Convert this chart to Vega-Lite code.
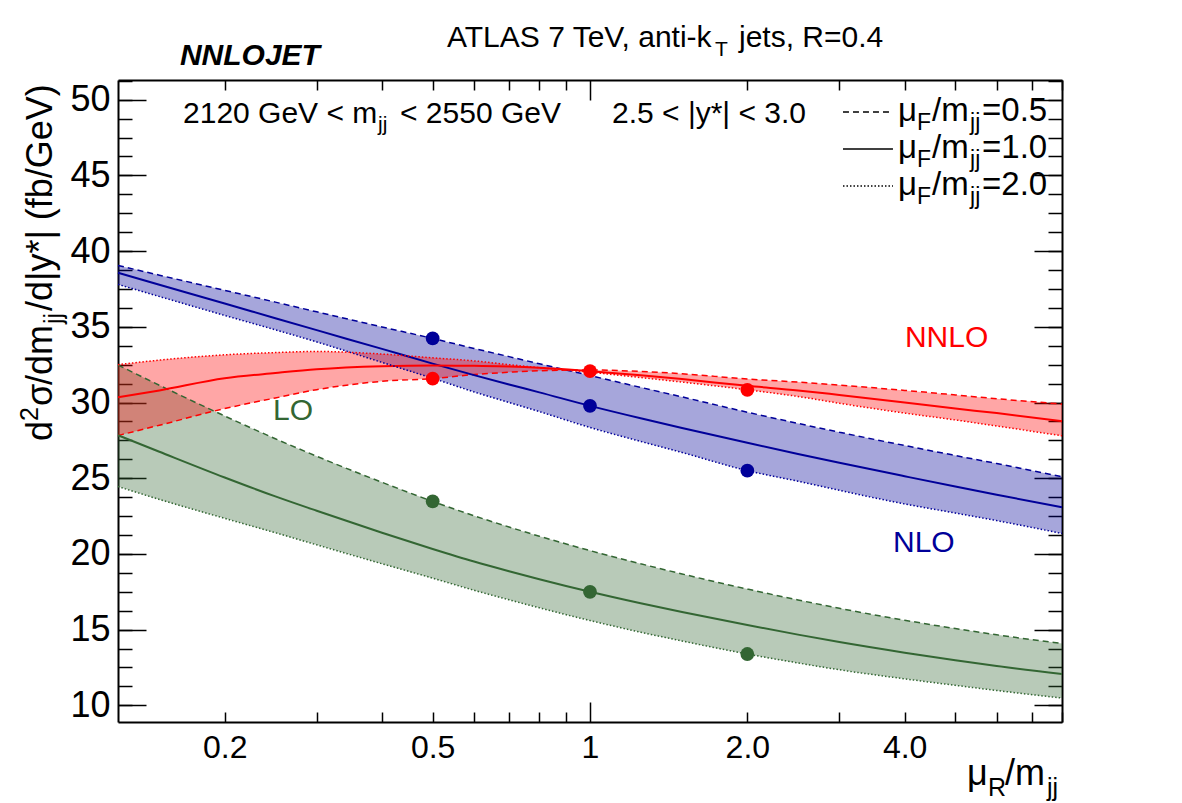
{
  "$schema": "https://vega.github.io/schema/vega-lite/v6.json",
  "width": 944,
  "height": 642,
  "autosize": "none",
  "padding": {"left": 118, "top": 80, "right": 120, "bottom": 81},
  "background": "white",
  "config": {
    "view": {"stroke": null},
    "font": "Liberation Sans",
    "axis": {"grid": false, "domain": false, "title": null, "labels": false, "tickColor": "#000", "tickWidth": 1.5, "domainColor": "#000", "domainWidth": 2, "zindex": 1}
  },
  "datasets": {
    "curves": [
      {"order": "LO", "mu": 0.125, "f05": 32.48, "f10": 27.84, "f20": 24.45},
      {"order": "LO", "mu": 0.15, "f05": 31.14, "f10": 26.75, "f20": 23.6},
      {"order": "LO", "mu": 0.2, "f05": 29.11, "f10": 25.05, "f20": 22.35},
      {"order": "LO", "mu": 0.25, "f05": 27.61, "f10": 23.8, "f20": 21.4},
      {"order": "LO", "mu": 0.3, "f05": 26.45, "f10": 22.85, "f20": 20.6},
      {"order": "LO", "mu": 0.4, "f05": 24.73, "f10": 21.4, "f20": 19.35},
      {"order": "LO", "mu": 0.5, "f05": 23.47, "f10": 20.33, "f20": 18.4},
      {"order": "LO", "mu": 0.6, "f05": 22.52, "f10": 19.5, "f20": 17.6},
      {"order": "LO", "mu": 0.7, "f05": 21.78, "f10": 18.86, "f20": 16.97},
      {"order": "LO", "mu": 0.8, "f05": 21.17, "f10": 18.33, "f20": 16.44},
      {"order": "LO", "mu": 1, "f05": 20.22, "f10": 17.5, "f20": 15.6},
      {"order": "LO", "mu": 1.25, "f05": 19.35, "f10": 16.74, "f20": 14.83},
      {"order": "LO", "mu": 1.5, "f05": 18.68, "f10": 16.16, "f20": 14.25},
      {"order": "LO", "mu": 2, "f05": 17.68, "f10": 15.3, "f20": 13.39},
      {"order": "LO", "mu": 2.5, "f05": 16.96, "f10": 14.67, "f20": 12.8},
      {"order": "LO", "mu": 3, "f05": 16.41, "f10": 14.18, "f20": 12.35},
      {"order": "LO", "mu": 4, "f05": 15.62, "f10": 13.48, "f20": 11.75},
      {"order": "LO", "mu": 5, "f05": 15.07, "f10": 12.98, "f20": 11.32},
      {"order": "LO", "mu": 6, "f05": 14.66, "f10": 12.6, "f20": 10.98},
      {"order": "LO", "mu": 8, "f05": 14.08, "f10": 12.07, "f20": 10.48},
      {"order": "NLO", "mu": 0.125, "f05": 39.05, "f10": 38.57, "f20": 37.8},
      {"order": "NLO", "mu": 0.15, "f05": 38.41, "f10": 37.78, "f20": 37.0},
      {"order": "NLO", "mu": 0.2, "f05": 37.41, "f10": 36.54, "f20": 35.75},
      {"order": "NLO", "mu": 0.25, "f05": 36.63, "f10": 35.57, "f20": 34.8},
      {"order": "NLO", "mu": 0.3, "f05": 35.99, "f10": 34.78, "f20": 34.0},
      {"order": "NLO", "mu": 0.4, "f05": 34.99, "f10": 33.54, "f20": 32.65},
      {"order": "NLO", "mu": 0.5, "f05": 34.23, "f10": 32.57, "f20": 31.6},
      {"order": "NLO", "mu": 0.6, "f05": 33.57, "f10": 31.81, "f20": 30.7},
      {"order": "NLO", "mu": 0.7, "f05": 33.03, "f10": 31.19, "f20": 30.0},
      {"order": "NLO", "mu": 0.8, "f05": 32.56, "f10": 30.67, "f20": 29.4},
      {"order": "NLO", "mu": 1, "f05": 31.78, "f10": 29.78, "f20": 28.35},
      {"order": "NLO", "mu": 1.25, "f05": 31.0, "f10": 28.96, "f20": 27.43},
      {"order": "NLO", "mu": 1.5, "f05": 30.37, "f10": 28.32, "f20": 26.7},
      {"order": "NLO", "mu": 2, "f05": 29.36, "f10": 27.34, "f20": 25.5},
      {"order": "NLO", "mu": 2.5, "f05": 28.62, "f10": 26.6, "f20": 24.8},
      {"order": "NLO", "mu": 3, "f05": 28.04, "f10": 26.02, "f20": 24.2},
      {"order": "NLO", "mu": 4, "f05": 27.16, "f10": 25.13, "f20": 23.3},
      {"order": "NLO", "mu": 5, "f05": 26.5, "f10": 24.45, "f20": 22.7},
      {"order": "NLO", "mu": 6, "f05": 25.97, "f10": 23.91, "f20": 22.2},
      {"order": "NLO", "mu": 8, "f05": 25.1, "f10": 23.08, "f20": 21.35},
      {"order": "NNLO", "mu": 0.125, "f05": 27.82, "f10": 30.35, "f20": 32.5},
      {"order": "NNLO", "mu": 0.15, "f05": 28.5, "f10": 30.8, "f20": 32.8},
      {"order": "NNLO", "mu": 0.2, "f05": 29.6, "f10": 31.6, "f20": 33.15},
      {"order": "NNLO", "mu": 0.25, "f05": 30.3, "f10": 31.95, "f20": 33.3},
      {"order": "NNLO", "mu": 0.3, "f05": 30.85, "f10": 32.2, "f20": 33.37},
      {"order": "NNLO", "mu": 0.4, "f05": 31.4, "f10": 32.4, "f20": 33.2},
      {"order": "NNLO", "mu": 0.5, "f05": 31.58, "f10": 32.45, "f20": 32.95},
      {"order": "NNLO", "mu": 0.6, "f05": 31.85, "f10": 32.42, "f20": 32.75},
      {"order": "NNLO", "mu": 0.7, "f05": 32.0, "f10": 32.38, "f20": 32.5},
      {"order": "NNLO", "mu": 0.8, "f05": 32.1, "f10": 32.3, "f20": 32.3},
      {"order": "NNLO", "mu": 1, "f05": 32.15, "f10": 32.07, "f20": 32.0},
      {"order": "NNLO", "mu": 1.25, "f05": 32.05, "f10": 31.8, "f20": 31.65},
      {"order": "NNLO", "mu": 1.5, "f05": 31.9, "f10": 31.55, "f20": 31.35},
      {"order": "NNLO", "mu": 2, "f05": 31.55, "f10": 31.1, "f20": 30.84},
      {"order": "NNLO", "mu": 2.5, "f05": 31.35, "f10": 30.8, "f20": 30.4},
      {"order": "NNLO", "mu": 3, "f05": 31.15, "f10": 30.5, "f20": 29.95},
      {"order": "NNLO", "mu": 4, "f05": 30.8, "f10": 30.0, "f20": 29.3},
      {"order": "NNLO", "mu": 5, "f05": 30.5, "f10": 29.6, "f20": 28.85},
      {"order": "NNLO", "mu": 6, "f05": 30.25, "f10": 29.3, "f20": 28.45},
      {"order": "NNLO", "mu": 8, "f05": 29.9, "f10": 28.76, "f20": 27.8}
    ],
    "points": [
      {"order": "LO", "mu": 0.5, "value": 23.47},
      {"order": "LO", "mu": 1, "value": 17.5},
      {"order": "LO", "mu": 2, "value": 13.39},
      {"order": "NLO", "mu": 0.5, "value": 34.23},
      {"order": "NLO", "mu": 1, "value": 29.78},
      {"order": "NLO", "mu": 2, "value": 25.5},
      {"order": "NNLO", "mu": 0.5, "value": 31.58},
      {"order": "NNLO", "mu": 1, "value": 32.07},
      {"order": "NNLO", "mu": 2, "value": 30.84}
    ]
  },
  "resolve": {"axis": {"x": "independent", "y": "independent"}},
  "layer": [
    {
      "data": {"name": "curves"},
      "transform": [{"filter": "datum.order === 'LO'"}],
      "mark": {"type": "area", "interpolate": "monotone", "color": "#336633", "opacity": 0.35},
      "encoding": {
        "x": {"field": "mu", "type": "quantitative", "scale": {"type": "log", "domain": [0.125, 8], "nice": false},
              "axis": {"orient": "bottom", "values": [0.2, 0.3, 0.4, 0.5, 0.6, 0.7, 0.8, 0.9, 2, 3, 4, 5, 6, 7, 8], "tickSize": -10, "domain": true}},
        "y": {"field": "f05", "type": "quantitative", "scale": {"domain": [8.9, 51.3], "nice": false, "zero": false},
              "axis": {"orient": "left", "values": [10, 15, 20, 25, 30, 35, 40, 45, 50], "tickSize": -28, "domain": true, "labels": true, "labelFont": "Liberation Sans", "labelFontSize": 36, "labelColor": "#000", "labelPadding": 36}},
        "y2": {"field": "f20"}
      }
    },
    {
      "data": {"name": "curves"},
      "transform": [{"filter": "datum.order === 'NLO'"}],
      "mark": {"type": "area", "interpolate": "monotone", "color": "#000099", "opacity": 0.35},
      "encoding": {
        "x": {"field": "mu", "type": "quantitative", "axis": {"orient": "bottom", "values": [1], "tickSize": -20}},
        "y": {"field": "f05", "type": "quantitative",
              "axis": {"orient": "left", "values": [10, 11.25, 12.5, 13.75, 15, 16.25, 17.5, 18.75, 20, 21.25, 22.5, 23.75, 25, 26.25, 27.5, 28.75, 30, 31.25, 32.5, 33.75, 35, 36.25, 37.5, 38.75, 40, 41.25, 42.5, 43.75, 45, 46.25, 47.5, 48.75, 50, 51.25], "tickSize": -14}},
        "y2": {"field": "f20"}
      }
    },
    {
      "data": {"name": "curves"},
      "transform": [{"filter": "datum.order === 'NNLO'"}],
      "mark": {"type": "area", "interpolate": "monotone", "color": "#ff0000", "opacity": 0.35},
      "encoding": {
        "x": {"field": "mu", "type": "quantitative",
              "axis": {"orient": "bottom", "values": [0.2, 0.5, 1, 2, 4], "ticks": false, "labels": true, "labelFont": "Liberation Sans Narrow, Liberation Sans", "labelFontSize": 32, "labelColor": "#000", "labelPadding": 10,
                       "labelExpr": "datum.value == 2 ? '2.0' : datum.value == 4 ? '4.0' : datum.value == 1 ? '1' : datum.value == 0.5 ? '0.5' : '0.2'"}},
        "y": {"field": "f05", "type": "quantitative",
              "axis": {"orient": "right", "values": [10, 15, 20, 25, 30, 35, 40, 45, 50], "tickSize": -28, "domain": true}},
        "y2": {"field": "f20"}
      }
    },
    {
      "data": {"name": "curves"},
      "mark": {"type": "line", "interpolate": "monotone", "strokeWidth": 1.5, "strokeDash": [6, 4]},
      "encoding": {
        "x": {"field": "mu", "type": "quantitative", "axis": {"orient": "top", "values": [0.2, 0.3, 0.4, 0.5, 0.6, 0.7, 0.8, 0.9, 2, 3, 4, 5, 6, 7, 8], "tickSize": -10, "domain": true}},
        "y": {"field": "f05", "type": "quantitative",
              "axis": {"orient": "right", "values": [10, 11.25, 12.5, 13.75, 15, 16.25, 17.5, 18.75, 20, 21.25, 22.5, 23.75, 25, 26.25, 27.5, 28.75, 30, 31.25, 32.5, 33.75, 35, 36.25, 37.5, 38.75, 40, 41.25, 42.5, 43.75, 45, 46.25, 47.5, 48.75, 50, 51.25], "tickSize": -14}},
        "color": {"field": "order", "type": "nominal", "scale": {"domain": ["LO", "NLO", "NNLO"], "range": ["#336633", "#000099", "#ff0000"]}, "legend": null}
      }
    },
    {
      "data": {"name": "curves"},
      "mark": {"type": "line", "interpolate": "monotone", "strokeWidth": 2},
      "encoding": {
        "x": {"field": "mu", "type": "quantitative", "axis": {"orient": "top", "values": [1], "tickSize": -20}},
        "y": {"field": "f10", "type": "quantitative", "axis": null},
        "color": {"field": "order", "type": "nominal", "legend": null}
      }
    },
    {
      "data": {"name": "curves"},
      "mark": {"type": "line", "interpolate": "monotone", "strokeWidth": 1.5, "strokeDash": [1.5, 2]},
      "encoding": {
        "x": {"field": "mu", "type": "quantitative", "axis": null},
        "y": {"field": "f20", "type": "quantitative", "axis": null},
        "color": {"field": "order", "type": "nominal", "legend": null}
      }
    },
    {
      "data": {"name": "points"},
      "mark": {"type": "circle", "size": 190, "opacity": 1},
      "encoding": {
        "x": {"field": "mu", "type": "quantitative", "axis": null},
        "y": {"field": "value", "type": "quantitative", "axis": null},
        "color": {"field": "order", "type": "nominal", "legend": null}
      }
    },
    {
      "data": {"values": [{}]},
      "mark": {"type": "rule", "color": "#000", "strokeWidth": 1.5, "strokeDash": [6, 4]},
      "encoding": {"x": {"datum": 3.048, "axis": null}, "x2": {"datum": 3.799}, "y": {"datum": 49.19, "axis": null}}
    },
    {
      "data": {"values": [{}]},
      "mark": {"type": "rule", "color": "#000", "strokeWidth": 1.5},
      "encoding": {"x": {"datum": 3.048, "axis": null}, "x2": {"datum": 3.799}, "y": {"datum": 46.74, "axis": null}}
    },
    {
      "data": {"values": [{}]},
      "mark": {"type": "rule", "color": "#000", "strokeWidth": 1.5, "strokeDash": [1.5, 2]},
      "encoding": {"x": {"datum": 3.048, "axis": null}, "x2": {"datum": 3.799}, "y": {"datum": 44.30, "axis": null}}
    },
    {
      "data": {"values": [{}]},
      "mark": {"type": "text", "text": "NNLOJET", "fontSize": 30, "fontWeight": "bold", "fontStyle": "italic", "align": "left", "baseline": "alphabetic", "color": "#000"},
      "encoding": {"x": {"datum": 0.1642, "axis": null}, "y": {"datum": 52.29, "axis": null}}
    },
    {
      "data": {"values": [{}]},
      "mark": {"type": "text", "text": "ATLAS 7 TeV, anti-k", "fontSize": 30, "align": "left", "baseline": "alphabetic", "color": "#000"},
      "encoding": {"x": {"datum": 0.5326, "axis": null}, "y": {"datum": 53.48, "axis": null}}
    },
    {
      "data": {"values": [{}]},
      "mark": {"type": "text", "text": "T", "fontSize": 21, "dx": 268, "dy": 9, "align": "left", "baseline": "alphabetic", "color": "#000"},
      "encoding": {"x": {"datum": 0.5326, "axis": null}, "y": {"datum": 53.48, "axis": null}}
    },
    {
      "data": {"values": [{}]},
      "mark": {"type": "text", "text": "jets, R=0.4", "fontSize": 30, "dx": 292, "align": "left", "baseline": "alphabetic", "color": "#000"},
      "encoding": {"x": {"datum": 0.5326, "axis": null}, "y": {"datum": 53.48, "axis": null}}
    },
    {
      "data": {"values": [{}]},
      "mark": {"type": "text", "text": "2120 GeV < m", "fontSize": 30, "align": "left", "baseline": "alphabetic", "color": "#000"},
      "encoding": {"x": {"datum": 0.16646, "axis": null}, "y": {"datum": 48.46, "axis": null}}
    },
    {
      "data": {"values": [{}]},
      "mark": {"type": "text", "text": "jj", "fontSize": 21, "dx": 195, "dy": 8, "align": "left", "baseline": "alphabetic", "color": "#000"},
      "encoding": {"x": {"datum": 0.16646, "axis": null}, "y": {"datum": 48.46, "axis": null}}
    },
    {
      "data": {"values": [{}]},
      "mark": {"type": "text", "text": "< 2550 GeV", "fontSize": 30, "dx": 217, "align": "left", "baseline": "alphabetic", "color": "#000"},
      "encoding": {"x": {"datum": 0.16646, "axis": null}, "y": {"datum": 48.46, "axis": null}}
    },
    {
      "data": {"values": [{}]},
      "mark": {"type": "text", "text": "2.5 < |y*| < 3.0", "fontSize": 30, "align": "left", "baseline": "alphabetic", "color": "#000"},
      "encoding": {"x": {"datum": 1.1018, "axis": null}, "y": {"datum": 48.46, "axis": null}}
    },
    {
      "data": {"values": [{"row": "=0.5", "v": 48.59}, {"row": "=1.0", "v": 46.15}, {"row": "=2.0", "v": 43.71}]},
      "layer": [
        {"mark": {"type": "text", "text": "μ", "fontSize": 33, "align": "left", "baseline": "alphabetic", "color": "#000"}},
        {"mark": {"type": "text", "text": "F", "fontSize": 23, "dx": 19, "dy": 9, "align": "left", "baseline": "alphabetic", "color": "#000"}},
        {"mark": {"type": "text", "text": "/m", "fontSize": 33, "dx": 34, "align": "left", "baseline": "alphabetic", "color": "#000"}},
        {"mark": {"type": "text", "text": "jj", "fontSize": 23, "dx": 72, "dy": 9, "align": "left", "baseline": "alphabetic", "color": "#000"}},
        {"mark": {"type": "text", "fontSize": 33, "dx": 84, "align": "left", "baseline": "alphabetic", "color": "#000"}, "encoding": {"text": {"field": "row"}}}
      ],
      "encoding": {"x": {"datum": 3.885, "axis": null}, "y": {"field": "v", "type": "quantitative", "axis": null}}
    },
    {
      "data": {"values": [{}]},
      "mark": {"type": "text", "text": "NNLO", "fontSize": 30, "align": "left", "baseline": "alphabetic", "color": "#ff0000"},
      "encoding": {"x": {"datum": 4.005, "axis": null}, "y": {"datum": 33.67, "axis": null}}
    },
    {
      "data": {"values": [{}]},
      "mark": {"type": "text", "text": "NLO", "fontSize": 30, "align": "left", "baseline": "alphabetic", "color": "#000099"},
      "encoding": {"x": {"datum": 3.799, "axis": null}, "y": {"datum": 20.13, "axis": null}}
    },
    {
      "data": {"values": [{}]},
      "mark": {"type": "text", "text": "LO", "fontSize": 30, "align": "left", "baseline": "alphabetic", "color": "#336633"},
      "encoding": {"x": {"datum": 0.2474, "axis": null}, "y": {"datum": 28.85, "axis": null}}
    },
    {
      "data": {"values": [{}]},
      "layer": [
        {"mark": {"type": "text", "text": "μ", "fontSize": 36, "align": "left", "baseline": "alphabetic", "color": "#000"}},
        {"mark": {"type": "text", "text": "R", "fontSize": 25, "dx": 21, "dy": 11, "align": "left", "baseline": "alphabetic", "color": "#000"}},
        {"mark": {"type": "text", "text": "/m", "fontSize": 36, "dx": 38, "align": "left", "baseline": "alphabetic", "color": "#000"}},
        {"mark": {"type": "text", "text": "jj", "fontSize": 25, "dx": 80, "dy": 11, "align": "left", "baseline": "alphabetic", "color": "#000"}}
      ],
      "encoding": {"x": {"datum": 5.265, "axis": null}, "y": {"datum": 4.74, "axis": null}}
    },
    {
      "data": {"values": [{}]},
      "layer": [
        {"mark": {"type": "text", "text": "d", "fontSize": 36, "angle": 270, "align": "left", "baseline": "alphabetic", "color": "#000"}},
        {"mark": {"type": "text", "text": "2", "fontSize": 25, "angle": 270, "dx": 20, "dy": -14, "align": "left", "baseline": "alphabetic", "color": "#000"}},
        {"mark": {"type": "text", "text": "σ", "fontSize": 36, "angle": 270, "dx": 35, "align": "left", "baseline": "alphabetic", "color": "#000"}},
        {"mark": {"type": "text", "text": "/dm", "fontSize": 36, "angle": 270, "dx": 56, "align": "left", "baseline": "alphabetic", "color": "#000"}},
        {"mark": {"type": "text", "text": "jj", "fontSize": 25, "angle": 270, "dx": 117, "dy": 10, "align": "left", "baseline": "alphabetic", "color": "#000"}},
        {"mark": {"type": "text", "text": "/d|y*| (fb/GeV)", "fontSize": 36, "angle": 270, "dx": 130, "align": "left", "baseline": "alphabetic", "color": "#000"}}
      ],
      "encoding": {"x": {"datum": 0.0935, "axis": null}, "y": {"datum": 27.46, "axis": null}}
    }
  ]
}
